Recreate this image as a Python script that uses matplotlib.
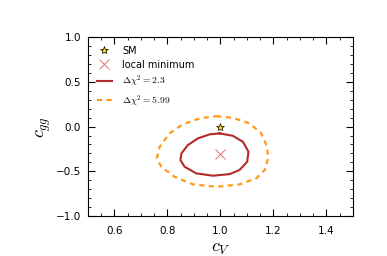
import matplotlib
matplotlib.use("Agg")
import matplotlib.pyplot as plt
import numpy as np

plt.rcParams['mathtext.fontset'] = 'cm'
plt.rcParams['font.family'] = ['DejaVu Sans']

# Data
sm_point = (1.0, 0.0)
local_min = (1.0, -0.31)

c68_x = [0.997, 1.047, 1.085, 1.106, 1.101, 1.072, 1.035, 0.972, 0.909, 0.865,
         0.849, 0.853, 0.877, 0.915, 0.959]
c68_y = [-0.076, -0.103, -0.170, -0.281, -0.393, -0.486, -0.531, -0.549, -0.523, -0.449,
         -0.374, -0.300, -0.207, -0.132, -0.087]

c95_x = [0.985, 1.047, 1.110, 1.154, 1.176, 1.180, 1.167, 1.135, 1.072, 0.985,
         0.896, 0.827, 0.777, 0.760, 0.771, 0.808, 0.858, 0.922]
c95_y = [0.117, 0.098, 0.036, -0.076, -0.226, -0.355, -0.486, -0.579, -0.646, -0.673,
         -0.646, -0.561, -0.449, -0.355, -0.226, -0.076, 0.025, 0.092]

xticks = [0.6, 0.8, 1.0, 1.2, 1.4]
yticks = [-1.0, -0.5, 0.0, 0.5, 1.0]

fig = plt.figure(figsize=(3.87, 2.56), dpi=100)
ax = fig.add_axes([0.227, 0.156, 0.685, 0.699])

ax.plot(*sm_point, marker='*', color='gold', markeredgecolor='black',
        markeredgewidth=0.5, markersize=6, linestyle='none', label='SM')
ax.plot(*local_min, marker='x', color='#e07070', markersize=6.5, markeredgewidth=0.7,
        linestyle='none', label='local minimum')
ax.plot(c68_x + c68_x[:1], c68_y + c68_y[:1], color='#b22a2a', lw=1.5,
        label=r'$\Delta\chi^2 = 2.3$')
ax.plot(c95_x + c95_x[:1], c95_y + c95_y[:1], color='#ff9a1a', lw=1.6,
        linestyle=(0, (2.3, 2.0)), label=r'$\Delta\chi^2 = 5.99$')

ax.set_xlim(0.5, 1.5)
ax.set_ylim(-1.0, 1.0)
ax.set_xticks(xticks)
ax.set_yticks(yticks)
ax.set_xticks(np.arange(0.5, 1.5001, 0.05), minor=True)
ax.set_yticks(np.arange(-1.0, 1.0001, 0.1), minor=True)
ax.tick_params(which='both', direction='in', top=True, right=True, labelsize=7.5)
ax.tick_params(which='major', length=5, width=0.8)
ax.tick_params(which='minor', length=2.5, width=0.6)
ax.tick_params(axis='x', which='major', pad=7)
ax.tick_params(axis='y', which='major', pad=5)

ax.set_xlabel(r'$c_V$', fontsize=13, labelpad=2)
ax.set_ylabel(r'$c_{gg}$', fontsize=13, labelpad=2)

ax.legend(loc='upper left', frameon=False, fontsize=7, handlelength=1.6,
          borderaxespad=0.5, borderpad=0.4, labelspacing=0.4, handletextpad=1.0)

fig.savefig('out.png', dpi=100)
